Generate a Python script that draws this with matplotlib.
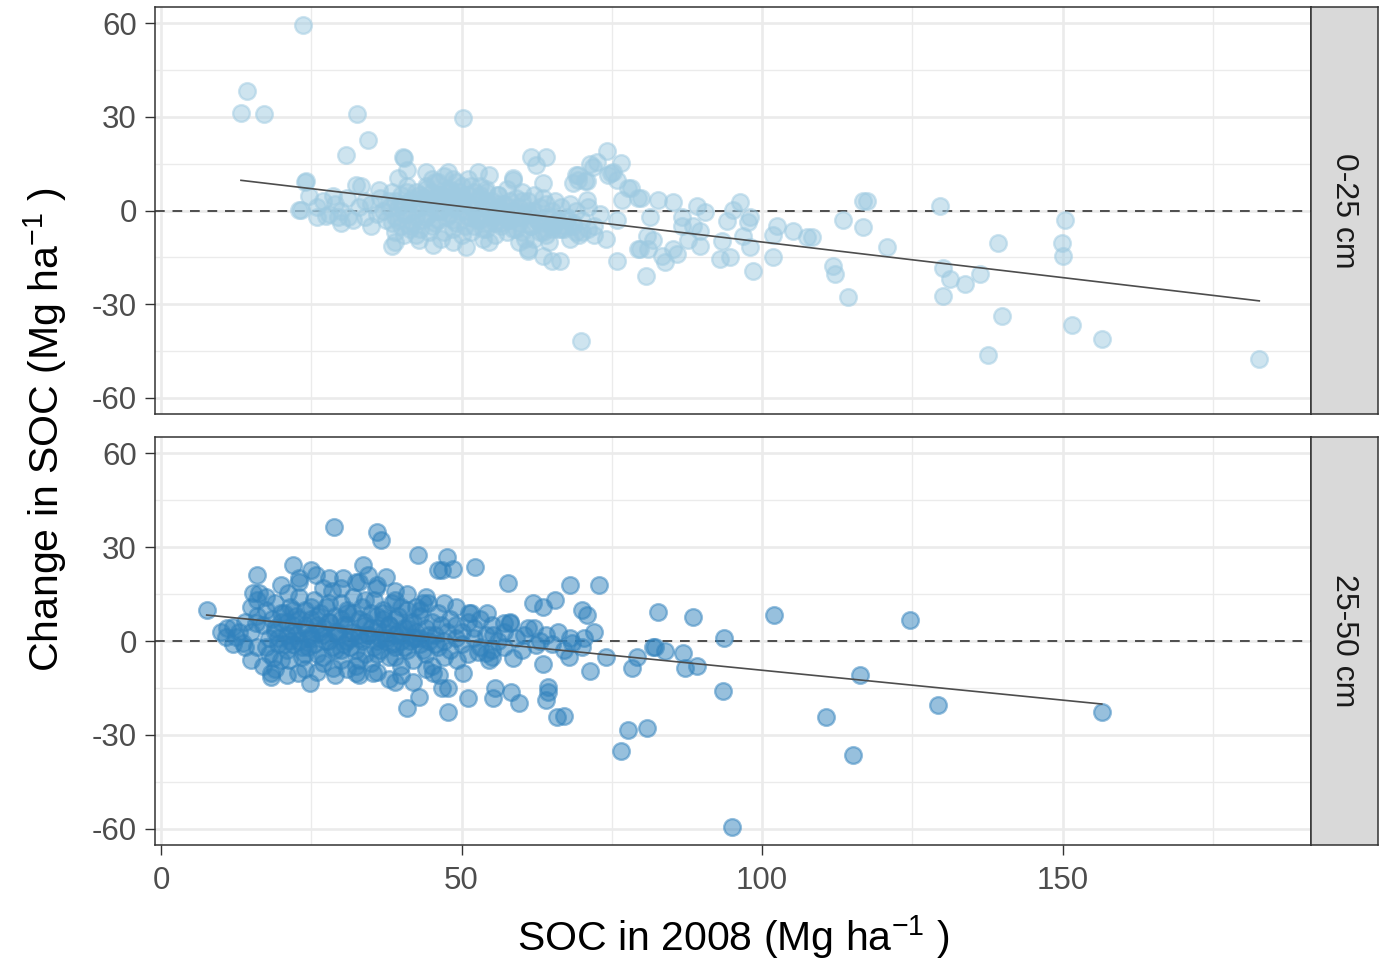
import numpy as np
import matplotlib
matplotlib.use("Agg")
import matplotlib.pyplot as plt

plt.rcParams['font.family'] = ['Liberation Sans', 'DejaVu Sans']
plt.rcParams['mathtext.fontset'] = 'custom'
plt.rcParams['mathtext.rm'] = 'Liberation Sans'
plt.rcParams['mathtext.it'] = 'Liberation Sans:italic'
plt.rcParams['mathtext.default'] = 'regular'
plt.rcParams['axes.unicode_minus'] = False

depths = ["0-25 cm", "25-50 cm"]

# ---- 0-25 cm : SOC in 2008 vs change in SOC (Mg/ha) ----
top_x = [23.6, 14.3, 13.3, 17.1, 32.6, 50.2, 30.7, 34.4, 24.0, 23.3, 40.4, 61.5, 64.1, 62.3, 74.2,
         72.6, 76.6, 69.8, 71.4, 69.1, 75.2, 77.7, 79.9, 81.0,
         71.9, 74.8, 75.9, 78.1, 79.4, 82.7, 85.2, 89.2, 96.3, 116.8, 117.4, 76.7, 69.3, 68.6, 70.6,
         70.9, 75.9, 81.4, 86.7, 90.5, 95.2, 94.2, 98.0, 97.7, 102.5, 101.8, 105.1, 107.5, 108.3,
         113.5, 116.8, 120.8, 96.8, 93.4, 89.7, 87.7, 80.9, 81.9, 79.4, 79.7, 75.9, 83.4, 83.9, 85.2,
         85.9, 93.0, 94.7, 98.0, 98.5, 101.8, 80.6, 111.8, 112.1, 114.3, 89.7, 86.7, 88.5,
         129.6, 150.3, 139.2, 149.8, 150.0, 130.1, 131.2, 133.7, 136.2, 130.1, 139.9, 151.5, 156.6,
         137.5, 182.7,
         24.1, 24.6, 22.9, 27.4, 29.4, 31.1, 28.6, 32.4, 34.9, 36.2, 40.2, 39.5, 41.0, 44.0, 47.8,
         52.7, 54.5, 58.5, 39.0, 38.5, 42.9, 45.2, 48.5, 50.7, 54.5, 61.0, 63.5, 65.1,
         33.2, 61.1, 66.4, 58.6, 63.6, 69.3, 70.9, 74.3,
         35, 36, 36.5, 37, 37.5, 38, 38.5, 39, 39.5, 40, 40, 40.5, 41, 41, 41.5, 42, 42, 42.5, 43, 43,
         43.5, 44, 44, 44.5, 45, 45, 45.5, 46, 46, 46.5, 47, 47, 47.5, 48, 48, 48.5, 49, 49, 49.5, 50,
         50, 50.5, 51, 51, 51.5, 52, 52, 52.5, 53, 53, 53.5, 54, 54, 54.5, 55, 55, 55.5, 56, 56, 56.5,
         57, 57, 57.5, 58, 58, 58.5, 59, 59, 59.5, 60, 60, 60.5, 61, 61, 61.5, 62, 62, 62.5, 63, 63,
         63.5, 64, 64, 64.5, 65, 65, 65.5, 66, 66.5, 67, 67.5, 68, 68.5, 69, 69.5, 70, 71, 72, 73, 74,
         26, 27, 28, 29, 30, 31, 32, 33, 34, 34, 26, 30,
         43, 44, 45, 46, 47, 48, 49, 50, 44.5, 46.5, 48.5, 51.5, 53.5, 55.5, 57.5, 59.5, 42.5, 41.5,
         40.5, 39,
         38, 39, 40, 41, 42, 43, 44, 45, 46, 47, 48, 49, 50, 51, 52, 53, 54, 55, 56, 57, 58, 59, 60,
         61, 62, 38.5, 39.5, 40.5, 41.5, 42.5, 43.5, 44.5, 45.5, 46.5, 47.5, 48.5, 49.5, 50.5, 51.5,
         52.5, 53.5, 54.5, 55.5, 56.5, 57.5, 58.5, 59.5, 60.5, 61.5, 62.5, 63.5, 64.5, 65.5, 66.5,
         67.5, 68.5, 44, 46, 48, 50, 52, 54, 56, 45, 47, 49, 51, 53,
         60, 62, 64, 66, 68, 70, 72, 63, 65, 67, 69, 71]
top_y = [59.4, 38.3, 31.3, 31.0, 31.0, 29.7, 17.9, 22.7, 9.0, 0.3, 16.9, 17.2, 17.2, 14.7, 19.2,
         15.6, 15.3, -41.8, 15.0, 11.5, 12.4, 7.3, 4.1, -12.4,
         14.0, 12.1, 9.9, 7.3, 4.1, 3.5, 2.6, 1.6, 2.6, 2.9, 2.9, 3.5, 11.5, 8.9, 9.3,
         3.5, -2.9, -2.2, -2.2, -0.6, 0.3, -3.5, -2.2, -3.8, -5.1, -7.7, -6.7, -8.6, -8.6,
         -2.9, -5.4, -11.8, -8.3, -9.9, -11.5, -9.3, -8.3, -9.3, -12.4, -12.4, -16.3, -14.7, -16.6, -12.4,
         -14.0, -15.6, -15.0, -11.8, -19.5, -15.0, -21.1, -17.9, -20.4, -27.8, -6.7, -5.1, -5.1,
         1.3, -3.2, -10.5, -10.5, -14.7, -18.5, -22.0, -23.6, -20.4, -27.4, -33.8, -36.7, -41.2,
         -46.3, -47.6,
         9.3, 4.5, 0.3, -1.9, -2.2, -2.2, 4.5, 8.3, -5.1, 6.7, 17.2, 10.5, 13.1, 12.4, 12.4,
         12.4, 11.5, 9.9, -10.2, -11.5, -9.3, -10.9, -10.2, -11.8, -10.2, -13.1, -14.7, -16.3,
         7.7, -12.4, -16.3, 10.5, 8.9, 9.9, 9.3, 11.5,
         2, -1, 4, 0, -3, 3, 6, -2, 1, 5, -5, 2, -1, 8, 3, -4, 0, 6, 2, -6,
         4, -2, 7, 1, -5, 3, 9, 0, -3, 5, 2, -7, 7, -1, 4, 10, 1, -4, 6, 3,
         -8, 0, 5, -2, 8, 2, -5, -1, 4, -3, 1, 6, -6, 0, 3, -2, -8, 1, 5, -4,
         2, -1, 7, -3, 3, 0, -6, 4, 1, -2, 6, -9, 0, 3, -5, -1, 5, -3, 1, -7,
         4, -2, 2, -10, 0, -5, 3, -3, 1, -6, -2, 2, -4, 0, -8, -3, 1, -5, -1, -9,
         1, 3, -1, 2, 0, 4, -3, 1, 3, -2, -2, -4,
         5, 4, 6, 4, 5, 6, 4, 5, -7, -9, -6, -7, -9, -4, -7, -10, -8, -6,
         -8, -7,
         1, 3, 2, 6, 4, 1, 3, 2, 5, 3, 1, 2, 4, 2, 0, 5, 3, -1, 2, 0, 1, -2, 3,
         -1, 0, -4, -3, -1, -5, -2, -3, -1, -4, 0, -2, -3, 0, -5, -2, -3, -6,
         -4, -2, -5, -3, -6, -4, -1, -5, -3, -7, -2, -4, -6, -3, -5,
         8, 9, 7, 8, 6, 7, 5, 10, 11, 9, 10, 8,
         -7, -9, -8, -6, -9, -7, -8, -4, -6, -5, -7, -6]

# ---- 25-50 cm ----
bot_x = [7.6, 28.7, 36.0, 36.6, 42.7, 47.5, 46.0, 52.2, 21.9, 15.9, 37.4, 57.8, 68.1, 72.9, 61.8,
         63.6, 65.6, 70.1, 70.8, 82.7, 88.5, 102.0, 124.6, 93.7, 79.2, 78.4, 82.2, 86.9, 89.2, 87.2,
         93.5, 116.3, 110.6, 129.2, 156.5, 115.1, 77.7, 80.9, 76.6, 95.0, 65.9, 67.1, 64.1, 64.3, 64.3,
         59.6, 58.3, 55.3, 55.5, 51.0, 47.8, 41.0, 42.9, 24.8, 18.3, 18.3, 46.2, 47.8, 71.4, 67.8,
         63.5, 58.6, 52.8, 54.0, 54.6,
         24.9, 25.7, 33.6, 34.4, 46.8, 48.5, 15.3, 16.3, 17.4, 21.1, 22.9, 27.9, 30.2, 32.4, 35.7,
         39.0, 42.4, 44.4, 51.2, 54.3, 12.0, 10.8, 13.6, 12.5, 15.8, 17.4, 18.6, 21.3, 22.8, 28.6,
         32.4, 35.2, 39.0, 45.2, 46.8, 49.3, 50.2, 55.1,
         51.5, 57.0, 58.1, 62.0, 60.3, 55.3, 70.3, 68.4, 62.3, 81.9, 83.9,
         14, 15, 16, 16, 17, 17.5, 18, 18, 18.5, 19, 19, 19.5, 20, 20, 20.5, 21, 21, 21.5, 22, 22,
         22.5, 23, 23, 23.5, 24, 24, 24.5, 25, 25, 25.5, 26, 26, 26.5, 27, 27, 27.5, 28, 28, 28.5, 29,
         29, 29.5, 30, 30, 30.5, 31, 31, 31.5, 32, 32, 32.5, 33, 33, 33.5, 34, 34, 34.5, 35, 35, 35.5,
         36, 36, 36.5, 37, 37, 37.5, 38, 38, 38.5, 39, 39, 39.5, 40, 40, 40.5, 41, 41, 41.5, 42, 42,
         42.5, 43, 43, 43.5, 44, 44, 44.5, 45, 45, 45.5, 46, 46, 46.5, 47, 47, 47.5, 48, 48, 49, 49,
         50, 50, 51, 51, 52, 52, 53, 53, 54, 55, 55, 56, 57, 57, 58, 59, 60, 61, 63, 64, 65, 66, 67,
         68, 70, 72, 74,
         10, 11, 12, 13, 14, 15, 16, 15, 17, 19, 21, 24, 26, 29, 31, 33, 36, 38, 40, 42, 44, 27, 30,
         33, 36, 39, 20, 23, 41, 44, 47, 49,
         19, 20, 21, 22, 23, 24, 25, 26, 27, 28, 29, 30, 31, 32, 33, 34, 35, 36, 37, 38, 39, 40, 41,
         42, 43, 19.5, 20.5, 21.5, 22.5, 23.5, 24.5, 25.5, 26.5, 27.5, 28.5, 29.5, 30.5, 31.5, 32.5,
         33.5, 34.5, 35.5, 36.5, 37.5, 38.5, 39.5, 40.5, 41.5, 42.5, 43.5, 44.5, 45.5, 22, 25, 28,
         31, 34, 37, 40, 43, 24, 27, 30, 33, 36, 39]
bot_y = [9.9, 36.4, 34.8, 32.2, 27.4, 26.8, 22.7, 23.6, 24.3, 21.1, 20.4, 18.5, 17.9, 17.9, 12.1,
         10.9, 13.1, 9.9, 8.3, 9.3, 7.7, 8.3, 6.7, 1.0, -5.1, -8.6, -1.9, -3.8, -8.0, -8.6,
         -16.0, -10.9, -24.3, -20.4, -22.7, -36.4, -28.4, -27.8, -35.1, -59.4, -24.3, -24.0, -18.8, -16.3, -14.7,
         -19.8, -16.3, -18.2, -15.0, -18.2, -22.7, -21.4, -17.9, -13.4, -11.5, -10.2, -10.9, -15.0, -9.6, -5.1,
         -7.3, -5.4, -3.5, -3.8, -6.1,
         22.7, 21.1, 24.3, 21.1, 22.7, 23.0, 15.3, 15.3, 14.0, 15.3, 18.8, 20.1, 20.1, 18.8, 16.9,
         13.1, 10.9, 12.1, 8.9, 8.9, 4.5, 1.3, -0.6, 1.3, 5.7, -1.9, -5.4, -6.1, -10.2, -8.6,
         -10.2, -10.2, -13.1, -10.2, -15.0, -6.1, -10.2, -5.1,
         8.9, 5.7, 5.7, 4.1, 1.9, 1.9, 1.0, -0.6, -1.3, -1.9, -3.2,
         6, 3, 8, -2, 5, 10, 1, -4, 7, 3, 12, -1, 6, -6, 9, 2, -3, 11, 5, -1,
         8, 0, 14, -5, 4, 10, -2, 7, 1, 13, -4, 5, 9, 2, -7, 11, 0, 6, 16, -3,
         8, 3, 12, -6, 5, 0, 9, -2, 14, 3, -8, 7, 1, 11, -4, 5, 2, 9, -7, 13,
         0, 4, -3, 7, 10, 1, -5, 5, 12, 2, -2, 8, 0, -8, 4, 10, -3, 6, 1, -6,
         3, 8, -1, 12, 4, -4, 0, 6, -8, 2, 9, -2, 5, 0, -5, 3, 7, -3, 1, 5,
         -1, 3, 6, -4, 1, 4, -2, 7, 2, -3, 5, 0, 3, -2, 6, 1, -3, 4, 0, 2, -1, 3, -3,
         1, -2, 3, -5,
         3, 4, -1, 3, -2, 11, 13, -6, -8, -9, -11, -9, -10, -11, -9, -11, -10, -12, -11, -13, -9, 17, 17,
         19, 18, 16, 18, 20, 15, 14, 12, 11,
         4, 9, 6, 3, 7, 5, 2, 8, 4, 6, 3, 7, 5, 9, 2, 6, 4, 8, 3, 5, 7, 2, 4,
         6, 1, 1, -1, 0, 2, -2, 1, -1, 3, 0, -2, 2, -1, 1, -3, 0, 2, -2, 1, 0, -1,
         3, -2, 0, 1, -3, 2, -1, 10, 11, 12, 10, 13, 9, 11, 10, -4, -5, -3, -6, -4, -5]

# fitted linear trends: intercept, slope
fit_coef = {"0-25 cm": (12.7, -0.228), "25-50 cm": (9.75, -0.191)}

point_colors = {"0-25 cm": "#9ECAE1", "25-50 cm": "#3182BD"}

x_ticks = [0, 50, 100, 150]
y_ticks = [-60, -30, 0, 30, 60]

W, H = 1391, 960
fig = plt.figure(figsize=(W / 100, H / 100), dpi=100)

panels = [(7, 414), (437, 845)]
left, right, strip_r = 155, 1311, 1378
data = {"0-25 cm": (top_x, top_y), "25-50 cm": (bot_x, bot_y)}

for i, (depth, (t, b)) in enumerate(zip(depths, panels)):
    ax = fig.add_axes([left / W, 1 - b / H, (right - left) / W, (b - t) / H])
    xs, ys = np.array(data[depth][0]), np.array(data[depth][1])
    ax.set_xlim(-1.0, 191.3)
    ax.set_ylim(-65.2, 65.2)
    ax.set_xticks(x_ticks)
    ax.set_yticks(y_ticks)
    ax.set_xticks([25, 75, 125, 175], minor=True)
    ax.set_yticks([-45, -15, 15, 45], minor=True)
    ax.grid(which='major', color='#EBEBEB', lw=1.9, zorder=0)
    ax.grid(which='minor', color='#EBEBEB', lw=0.95, zorder=0)
    ax.set_axisbelow(True)
    ax.tick_params(which='minor', length=0)
    ax.tick_params(which='major', length=7, width=1.0, color='#333333',
                   labelcolor='#4D4D4D', labelsize=22.5, pad=6)
    ax.tick_params(axis='x', pad=8)
    for s in ax.spines.values():
        s.set_color('#333333')
        s.set_linewidth(1.1)
    if i == 0:
        ax.tick_params(axis='x', labelbottom=False, length=0)
    ax.axhline(0, color='#4D4D4D', lw=1.4, ls=(0, (5, 4)), zorder=2)
    c = point_colors[depth]
    ax.scatter(xs, ys, s=145, color=c, alpha=0.5, linewidths=1.7, zorder=3)
    a, m = fit_coef[depth]
    xl = np.array([xs.min(), xs.max()])
    ax.plot(xl, a + m * xl, color='#4D4D4D', lw=1.2, zorder=4)

    sax = fig.add_axes([right / W, 1 - b / H, (strip_r - right) / W, (b - t) / H])
    sax.set_facecolor('#D9D9D9')
    sax.set_xticks([]); sax.set_yticks([])
    for s in sax.spines.values():
        s.set_color('#333333')
        s.set_linewidth(1.1)
    sax.text(0.5, 0.5, depth, rotation=270, ha='center', va='center',
             fontsize=23, color='#1A1A1A', transform=sax.transAxes)

fig.text((left + right) / 2 / W, 1 - 937 / H, r"SOC in 2008 (Mg ha$^{-1}$ )",
         ha='center', va='center', fontsize=29.5, color='black')
fig.text(45 / W, 1 - 430 / H, r"Change in SOC (Mg ha$^{-1}$ )",
         ha='center', va='center', rotation=90, fontsize=29.5, color='black')

fig.savefig("out.png", dpi=100)
